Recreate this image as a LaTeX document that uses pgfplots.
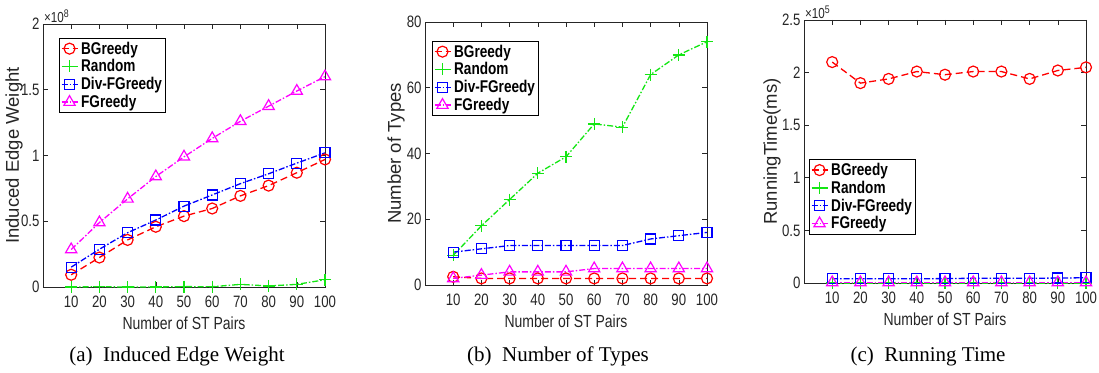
\documentclass[border=0pt]{standalone}
\usepackage{pgfplots}
\pgfplotsset{compat=1.18}
\usepackage{fontspec}
\setmainfont{Liberation Sans}[FakeStretch=0.8]
\newfontfamily\ylfont{Liberation Sans}
\newfontfamily\capfont{Liberation Serif}
\definecolor{axgray}{RGB}{38,38,38}
\definecolor{mred}{RGB}{255,0,0}
\definecolor{mgreen}{RGB}{20,230,20}
\definecolor{mblue}{RGB}{0,0,255}
\definecolor{mmag}{RGB}{255,0,255}
\pgfplotsset{
  mystyle/.style={
    scale only axis, width=282pt, height=263pt, clip=false,
    xmin=0, xmax=100, xtick={10,20,...,100},
    tick align=inside, major tick length=5pt,
    axis line style={axgray, line width=0.6pt},
    tick style={axgray, line width=0.6pt},
    ticklabel style={font=\fontsize{16.5}{16.5}\selectfont, text=axgray},
    xticklabel style={yshift=-5pt},
    /pgf/number format/assume math mode=true,
    scaled y ticks=false,
    xlabel={Number of ST Pairs},
    every axis x label/.style={at={(rel axis cs:0.5,0)}, anchor=center, yshift=-36pt},
    xlabel style={font=\fontsize{17.5}{17.5}\selectfont, text=axgray},
    every axis y label/.style={at={(rel axis cs:0,0.5)}, xshift=-29pt, rotate=90, anchor=center},
    ylabel style={font=\ylfont\fontsize{18.5}{18.5}\selectfont, text=axgray},
    legend style={draw=black, line width=0.6pt, fill=white,
      font=\bfseries\fontsize{17}{17}\selectfont, anchor=north west,
      inner sep=1.5pt, row sep=0pt, /tikz/every odd column/.append style={column sep=1pt}},
    legend cell align=left,
    legend image code/.code={\draw[mark repeat=2,mark phase=2] plot coordinates {(0pt,0pt) (8pt,0pt) (16pt,0pt)};},
  },
  sB/.style={mred, line width=1.3pt, dash pattern=on 7pt off 4pt, mark=o, mark size=5.5pt, mark options={solid, line width=1.2pt}},
  sR/.style={mgreen, line width=1.3pt, dash pattern=on 6pt off 2pt on 1.5pt off 2pt, mark=+, mark size=6pt, mark options={solid, line width=1.3pt}},
  sD/.style={mblue, line width=1.3pt, dash pattern=on 6pt off 2pt on 1.5pt off 2pt, mark=square, mark size=5pt, mark options={solid, line width=1.2pt}},
  sF/.style={mmag, line width=1.3pt, dash pattern=on 6pt off 2pt on 1.5pt off 2pt, mark=triangle, mark size=6.5pt, mark options={solid, line width=1.2pt}},
}
\begin{document}
\begin{tikzpicture}
\path[use as bounding box] (0,0) rectangle (1099pt,372pt);
% (a)
\begin{axis}[mystyle, at={(43pt,85pt)}, anchor=south west,
  ymin=0, ymax=2, ytick={0,0.5,1,1.5,2}, yticklabels={0,0.5,1,1.5,2},
  ylabel={Induced Edge Weight},
  legend style={at={(0.057,0.947)}}]
\addplot[sB] coordinates {(10,0.093) (20,0.224) (30,0.358) (40,0.458) (50,0.539) (60,0.597) (70,0.693) (80,0.771) (90,0.869) (100,0.970)};
\addplot[sR] coordinates {(10,0.0) (20,0.002) (30,0.0) (40,0.0) (50,0.003) (60,0.002) (70,0.02) (80,0.008) (90,0.02) (100,0.055)};
\addplot[sD] coordinates {(10,0.151) (20,0.287) (30,0.413) (40,0.509) (50,0.615) (60,0.700) (70,0.786) (80,0.861) (90,0.942) (100,1.020)};
\addplot[sF] coordinates {(10,0.285) (20,0.49) (30,0.67) (40,0.84) (50,0.99) (60,1.13) (70,1.26) (80,1.375) (90,1.49) (100,1.60)};
\legend{BGreedy,Random,Div-FGreedy,FGreedy}
\node[anchor=south west, inner sep=1pt, text=axgray, font=\fontsize{14.5}{14.5}\selectfont] at (rel axis cs:0,1) {×10\raisebox{0.7ex}{\fontsize{11}{11}\selectfont 8}};
\end{axis}
% (b)
\begin{axis}[mystyle, at={(425pt,87pt)}, anchor=south west,
  ymin=0, ymax=80, ytick={0,20,40,60,80},
  ylabel={Number of Types},
  legend style={at={(0.025,0.928)}}]
\addplot[sB] coordinates {(10,2.5) (20,2) (30,2) (40,2) (50,2) (60,2) (70,2) (80,2) (90,2) (100,2)};
\addplot[sR] coordinates {(10,9) (20,18) (30,26) (40,34) (50,39) (60,49) (70,48) (80,64) (90,70) (100,74)};
\addplot[sD] coordinates {(10,10) (20,11) (30,12) (40,12) (50,12) (60,12) (70,12) (80,14) (90,15) (100,16)};
\addplot[sF] coordinates {(10,2) (20,3) (30,4) (40,4) (50,4) (60,5) (70,5) (80,5) (90,5) (100,5)};
\legend{BGreedy,Random,Div-FGreedy,FGreedy}
\end{axis}
% (c)
\begin{axis}[mystyle, at={(804pt,89pt)}, anchor=south west,
  ymin=0, ymax=2.5, ytick={0,0.5,1,1.5,2,2.5}, yticklabels={0,0.5,1,1.5,2,2.5},
  ylabel={RunningTime(ms)},
  every axis y label/.append style={yshift=3pt},
  legend style={at={(0.018,0.47)}}]
\addplot[sB] coordinates {(10,2.10) (20,1.90) (30,1.94) (40,2.01) (50,1.98) (60,2.01) (70,2.01) (80,1.94) (90,2.02) (100,2.05)};
\addplot[sR] coordinates {(10,0.0) (20,0.0) (30,0.0) (40,0.0) (50,0.0) (60,0.0) (70,0.0) (80,0.0) (90,0.0) (100,0.0)};
\addplot[sD] coordinates {(10,0.04) (20,0.04) (30,0.04) (40,0.04) (50,0.042) (60,0.045) (70,0.045) (80,0.045) (90,0.047) (100,0.05)};
\addplot[sF] coordinates {(10,0.005) (20,0.005) (30,0.005) (40,0.005) (50,0.005) (60,0.005) (70,0.005) (80,0.005) (90,0.005) (100,0.005)};
\legend{BGreedy,Random,Div-FGreedy,FGreedy}
\node[anchor=south west, inner sep=1pt, text=axgray, font=\fontsize{14.5}{14.5}\selectfont] at (rel axis cs:0,1) {×10\raisebox{0.7ex}{\fontsize{11}{11}\selectfont 5}};
\end{axis}
% captions
\node[font=\capfont\fontsize{21}{21}\selectfont] at (177pt,16pt) {(a)\ \ Induced Edge Weight};
\node[font=\capfont\fontsize{21}{21}\selectfont] at (558pt,16pt) {(b)\ \ Number of Types};
\node[font=\capfont\fontsize{21}{21}\selectfont] at (928pt,16pt) {(c)\ \ Running Time};
\end{tikzpicture}
\end{document}
